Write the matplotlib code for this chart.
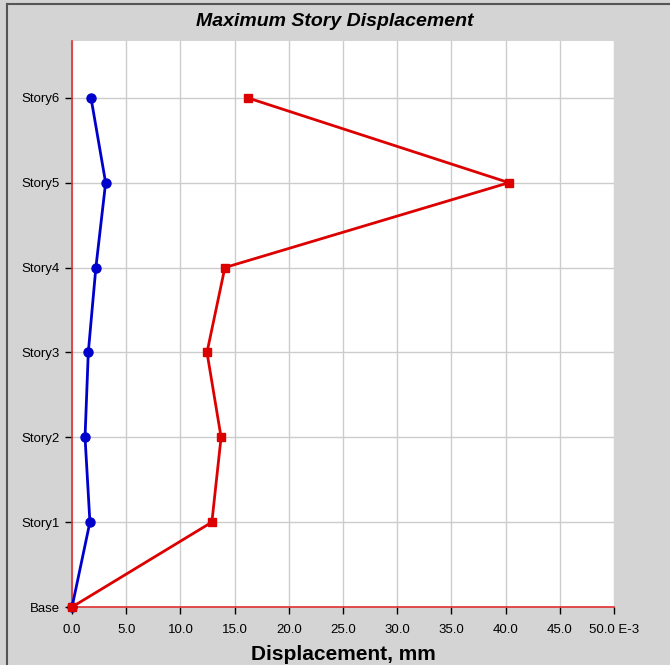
import matplotlib.pyplot as plt
from matplotlib.lines import Line2D

plt.rcParams['font.family'] = ['Liberation Sans', 'DejaVu Sans']

# story levels and displacements (x 1e-3 mm)
stories = ['Base', 'Story1', 'Story2', 'Story3', 'Story4', 'Story5', 'Story6']
dispX = [0.0, 1.65, 1.2, 1.5, 2.2, 3.1, 1.75]
dispY = [0.0, 12.9, 13.75, 12.45, 14.1, 40.3, 16.2]
xticks = [0, 5, 10, 15, 20, 25, 30, 35, 40, 45, 50]
xlabels = ['%.1f' % v for v in xticks]
xlabels[-1] = '50.0 E-3'

bg = '#d4d4d4'
fig = plt.figure(figsize=(6.7, 6.65), dpi=100, facecolor=bg)
ax = fig.add_axes([0.1075, 0.0872, 0.8090, 0.8512])
ax.set_facecolor('white')

lev = list(range(len(stories)))
ax.plot(dispX, lev, color='#0000cc', lw=2, marker='o', ms=6.5, zorder=3, clip_on=False)
ax.plot(dispY, lev, color='#dd0000', lw=2, marker='s', ms=6, zorder=3, clip_on=False)

ax.set_xlim(0, 50)
ax.set_ylim(0, 6.67)
ax.set_xticks(xticks)
ax.set_xticklabels(xlabels, fontsize=9.5)
ax.set_yticks(lev)
ax.set_yticklabels(stories, fontsize=9.5)
ax.tick_params(direction='out', length=5, width=1, color='black', pad=4)
ax.tick_params(axis='x', pad=7)
ax.grid(True, color='#cccccc', lw=1)
ax.set_axisbelow(True)

for s in ['top', 'right']:
    ax.spines[s].set_visible(False)
for s in ['left', 'bottom']:
    ax.spines[s].set_color('#e03030')
    ax.spines[s].set_linewidth(1.2)

ax.set_xlabel('Displacement, mm', fontsize=15, fontweight='bold', labelpad=7)
fig.text(0.5, 0.968, 'Maximum Story Displacement', ha='center', va='center',
         fontsize=14, fontweight='bold', fontstyle='italic')

# frame lines along top and left edges
fig.add_artist(Line2D([0.0104, 1.0], [0.994, 0.994], transform=fig.transFigure, color='#555555', lw=1.5))
fig.add_artist(Line2D([0.0104, 0.0104], [0.0, 0.994], transform=fig.transFigure, color='#555555', lw=1.5))

fig.savefig('out.png', dpi=100, facecolor=bg)
